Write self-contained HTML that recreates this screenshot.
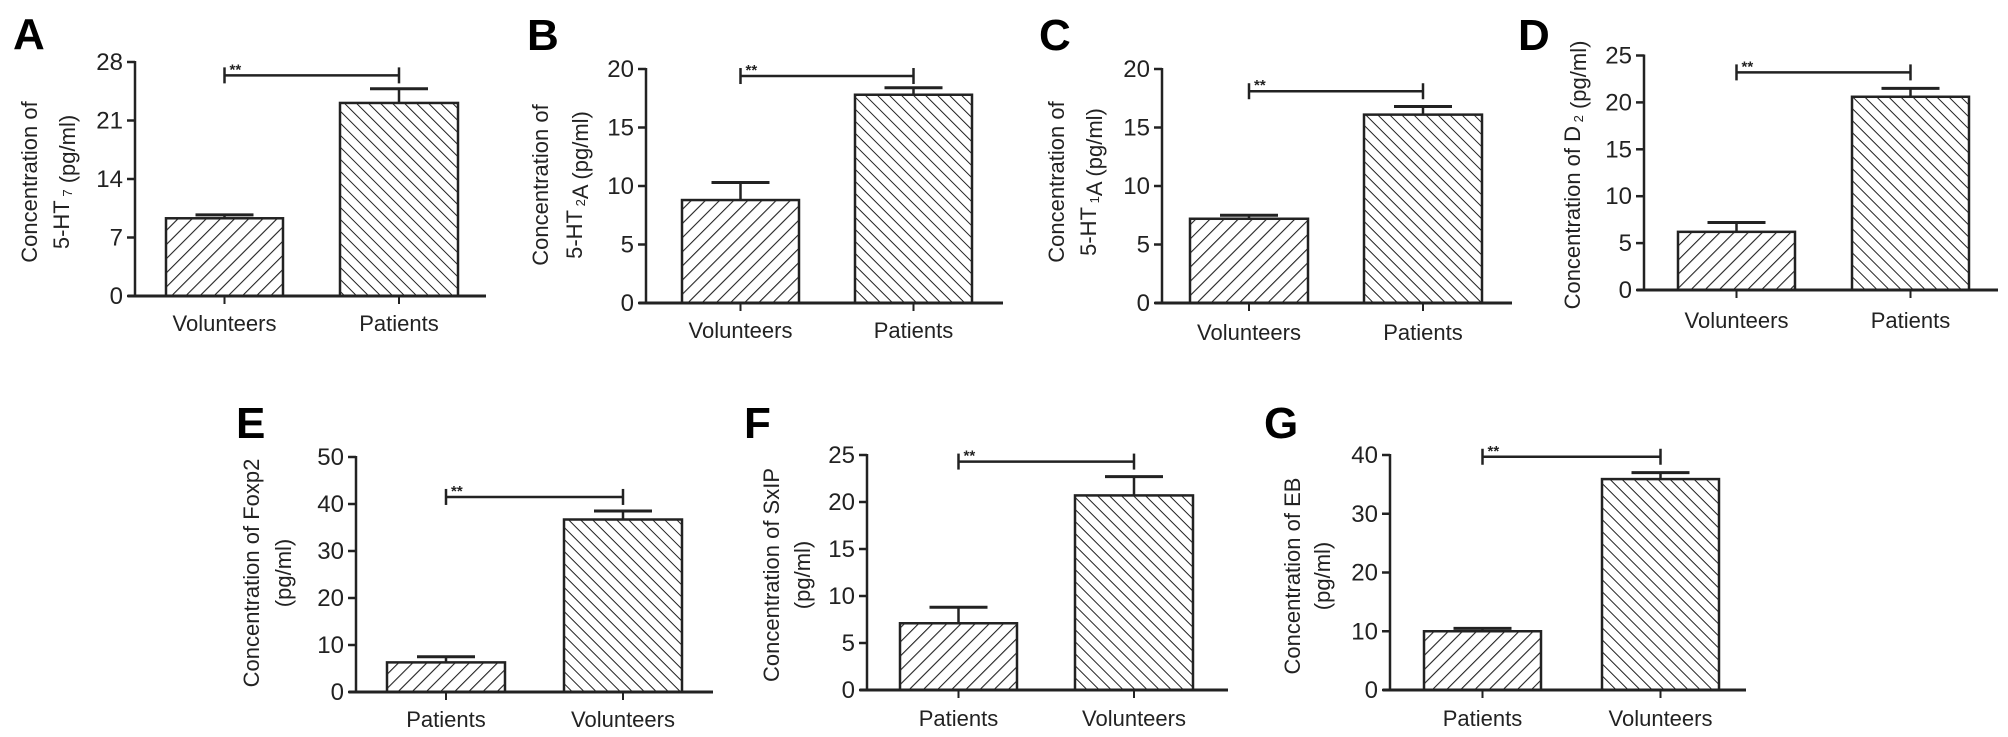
<!DOCTYPE html>
<html><head><meta charset="utf-8"><style>
html,body{margin:0;padding:0;background:#fff;}
svg{display:block;font-family:"Liberation Sans",Arial,sans-serif;}
</style></head><body>
<svg id="fig" width="2008" height="737" viewBox="0 0 2008 737" xmlns="http://www.w3.org/2000/svg">
<defs>
<pattern id="hatchR" patternUnits="userSpaceOnUse" width="10" height="10" patternTransform="rotate(45)"><line x1="0" y1="0" x2="0" y2="10" stroke="#222" stroke-width="2.2"/></pattern>
<pattern id="hatchL" patternUnits="userSpaceOnUse" width="8.5" height="8.5" patternTransform="rotate(-45)"><line x1="0" y1="0" x2="0" y2="8.5" stroke="#222" stroke-width="2"/></pattern>
</defs>
</svg>
<script>
// ---- data ----
const catsA = ["Volunteers", "Patients"];
const valsA = [9.3, 23.1];
const errA = [0.4, 1.7];
const sigA = 26.4;
const ticksA = [0, 7, 14, 21, 28];

const catsB = ["Volunteers", "Patients"];
const valsB = [8.8, 17.8];
const errB = [1.5, 0.6];
const sigB = 19.4;
const ticksB = [0, 5, 10, 15, 20];

const catsC = ["Volunteers", "Patients"];
const valsC = [7.2, 16.1];
const errC = [0.3, 0.7];
const sigC = 18.1;
const ticksC = [0, 5, 10, 15, 20];

const catsD = ["Volunteers", "Patients"];
const valsD = [6.2, 20.6];
const errD = [1.0, 0.9];
const sigD = 23.2;
const ticksD = [0, 5, 10, 15, 20, 25];

const catsE = ["Patients", "Volunteers"];
const valsE = [6.3, 36.7];
const errE = [1.2, 1.8];
const sigE = 41.5;
const ticksE = [0, 10, 20, 30, 40, 50];

const catsF = ["Patients", "Volunteers"];
const valsF = [7.1, 20.7];
const errF = [1.7, 2.0];
const sigF = 24.3;
const ticksF = [0, 5, 10, 15, 20, 25];

const catsG = ["Patients", "Volunteers"];
const valsG = [10.0, 35.9];
const errG = [0.5, 1.1];
const sigG = 39.7;
const ticksG = [0, 10, 20, 30, 40];

// ---- layout ----
const panels = [
 {L:"A", lx:13, ly:49, ax:135, base:296, top:62, xEnd:486, bars:[[166,283],[340,458]], catY:331,
  cats:catsA, vals:valsA, errs:errA, sig:sigA, ticks:ticksA,
  title:[["Concentration of"],["5-HT",["7"]," (pg/ml)"]], tx:[29,61], ty:182},
 {L:"B", lx:527, ly:50, ax:646, base:303, top:69, xEnd:1003, bars:[[682,799],[855,972]], catY:338,
  cats:catsB, vals:valsB, errs:errB, sig:sigB, ticks:ticksB,
  title:[["Concentration of"],["5-HT",["2"],"A (pg/ml)"]], tx:[540,574], ty:185},
 {L:"C", lx:1039, ly:50, ax:1162, base:303, top:69, xEnd:1512, bars:[[1190,1308],[1364,1482]], catY:340,
  cats:catsC, vals:valsC, errs:errC, sig:sigC, ticks:ticksC,
  title:[["Concentration of"],["5-HT",["1"],"A (pg/ml)"]], tx:[1056,1088], ty:182},
 {L:"D", lx:1518, ly:50, ax:1644, base:290, top:55.5, xEnd:1998, bars:[[1678,1795],[1852,1969]], catY:328,
  cats:catsD, vals:valsD, errs:errD, sig:sigD, ticks:ticksD,
  title:[["Concentration of D",["2"]," (pg/ml)"]], tx:[1572], ty:175},
 {L:"E", lx:236, ly:438, ax:356, base:692, top:457, xEnd:713, bars:[[387,505],[564,682]], catY:727,
  cats:catsE, vals:valsE, errs:errE, sig:sigE, ticks:ticksE,
  title:[["Concentration of Foxp2"],["(pg/ml)"]], tx:[251,283], ty:573},
 {L:"F", lx:744, ly:438, ax:867, base:690, top:455, xEnd:1228, bars:[[900,1017],[1075,1193]], catY:726,
  cats:catsF, vals:valsF, errs:errF, sig:sigF, ticks:ticksF,
  title:[["Concentration of SxIP"],["(pg/ml)"]], tx:[771,802], ty:575},
 {L:"G", lx:1264, ly:438, ax:1390, base:690, top:455, xEnd:1746, bars:[[1424,1541],[1602,1719]], catY:726,
  cats:catsG, vals:valsG, errs:errG, sig:sigG, ticks:ticksG,
  title:[["Concentration of EB"],["(pg/ml)"]], tx:[1292,1322], ty:576}
];

const NS = "http://www.w3.org/2000/svg";
const svg = document.getElementById("fig");
const INK = "#222";
function mk(tag, attrs, parent){
  const e = document.createElementNS(NS, tag);
  for (const k in attrs) e.setAttribute(k, attrs[k]);
  (parent||svg).appendChild(e);
  return e;
}

panels.forEach(function(p){
  const g = mk("g", {});
  
  
  const maxV = p.ticks[p.ticks.length-1];
  const y = function(v){ return p.base - (v / maxV) * (p.base - p.top); };

  const letter = mk("text", {x:p.lx, y:p.ly, "font-size":44, "font-weight":"bold", fill:"#000"}, g);
  letter.textContent = p.L;
  
  

  // y axis
  const yax = mk("line", {x1:p.ax, y1:p.top-1, x2:p.ax, y2:p.base, stroke:INK, "stroke-width":2.5}, g);
  
  
  p.ticks.forEach(function(t){
    const ty = y(t);
    mk("line", {x1:p.ax-8, y1:ty, x2:p.ax, y2:ty, stroke:INK, "stroke-width":2.5}, g);
    const tl = mk("text", {x:p.ax-12, y:ty+8, "font-size":24, "text-anchor":"end", fill:"#222"}, g);
    tl.textContent = t;
    
    
  });
  // x axis
  const xax = mk("line", {x1:p.ax-7, y1:p.base, x2:p.xEnd, y2:p.base, stroke:INK, "stroke-width":3}, g);
  
  

  // bars
  const centers = [];
  p.vals.forEach(function(v, i){
    const x0 = p.bars[i][0], x1 = p.bars[i][1], cx = (x0+x1)/2;
    centers.push(cx);
    const e = p.errs[i];
    mk("line", {x1:cx, y1:y(v), x2:cx, y2:y(v+e), stroke:INK, "stroke-width":2.5}, g);
    mk("line", {x1:cx-29, y1:y(v+e), x2:cx+29, y2:y(v+e), stroke:INK, "stroke-width":3}, g);
    const r = mk("rect", {x:x0, y:y(v), width:x1-x0, height:p.base-y(v), fill:"url(#" + (i===0?"hatchR":"hatchL") + ")", stroke:INK, "stroke-width":2.5}, g);
    
    
    mk("line", {x1:cx, y1:p.base, x2:cx, y2:p.base+8, stroke:INK, "stroke-width":2}, g);
    const cl = mk("text", {x:cx, y:p.catY, "font-size":22, "text-anchor":"middle", fill:"#222"}, g);
    cl.textContent = p.cats[i];
    
    
  });

  // significance bracket
  const sy = y(p.sig);
  const sg = mk("g", {}, g);
  
  
  mk("line", {x1:centers[0], y1:sy, x2:centers[1], y2:sy, stroke:INK, "stroke-width":2.5}, sg);
  mk("line", {x1:centers[0], y1:sy-8, x2:centers[0], y2:sy+8, stroke:INK, "stroke-width":2.5}, sg);
  mk("line", {x1:centers[1], y1:sy-8, x2:centers[1], y2:sy+8, stroke:INK, "stroke-width":2.5}, sg);
  const st = mk("text", {x:centers[0]+5, y:sy-1, "font-size":15, "font-weight":"bold", fill:"#222"}, sg);
  st.textContent = "**";

  // y title
  p.title.forEach(function(parts, li){
    const cx = p.tx[li];
    const t = mk("text", {x:0, y:0, "font-size":22, "text-anchor":"middle", "dominant-baseline":"central", fill:"#222",
      transform:"translate(" + cx + "," + p.ty + ") rotate(-90)"}, g);
    
    
    parts.forEach(function(part){
      const s = mk("tspan", {}, t);
      if (Array.isArray(part)) {
        s.setAttribute("font-size", "13");
        s.setAttribute("dy", "6");
        s.textContent = " " + part[0];
        const back = mk("tspan", {dy:"-6"}, t);
        back.textContent = "";
      } else {
        s.textContent = part;
      }
    });
  });
});
</script>
</body></html>
